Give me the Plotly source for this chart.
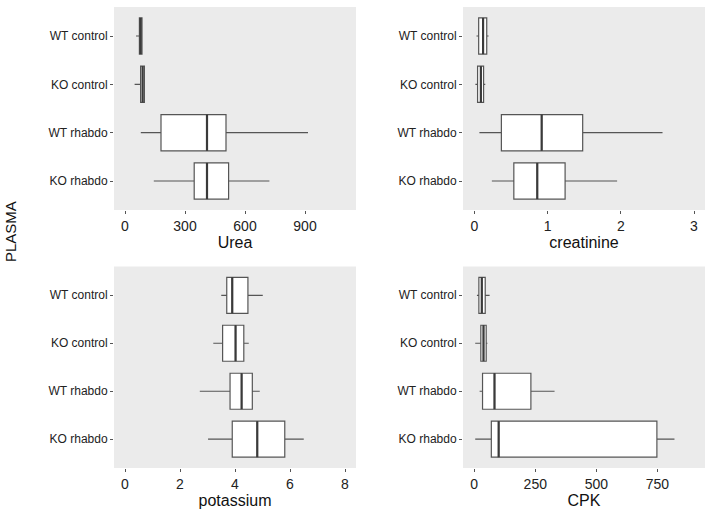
import plotly.graph_objects as go

groups = ["WT control", "KO control", "WT rhabdo", "KO rhabdo"]

urea_min = [55, 48, 79, 144]
urea_q1 = [72, 78, 180, 346]
urea_med = [78, 88, 410, 410]
urea_q3 = [85, 97, 505, 518]
urea_max = [88, 97, 915, 722]

creat_min = [0.03, 0.015, 0.07, 0.24]
creat_q1 = [0.06, 0.045, 0.37, 0.54]
creat_med = [0.12, 0.09, 0.92, 0.86]
creat_q3 = [0.17, 0.127, 1.48, 1.24]
creat_max = [0.195, 0.15, 2.57, 1.95]

pot_min = [3.50, 3.21, 2.72, 3.02]
pot_q1 = [3.70, 3.55, 3.82, 3.90]
pot_med = [3.90, 4.02, 4.24, 4.81]
pot_q3 = [4.47, 4.32, 4.63, 5.81]
pot_max = [5.01, 4.50, 4.90, 6.50]

cpk_min = [11, 4, 22, 4]
cpk_q1 = [19, 27, 34, 70]
cpk_med = [31, 38, 83, 100]
cpk_q3 = [45, 49, 232, 748]
cpk_max = [63, 54, 329, 820]

panels = [
    ("Urea", urea_min, urea_q1, urea_med, urea_q3, urea_max, [-55, 1155], [0, 300, 600, 900]),
    ("creatinine", creat_min, creat_q1, creat_med, creat_q3, creat_max, [-0.154, 3.15], [0, 1, 2, 3]),
    ("potassium", pot_min, pot_q1, pot_med, pot_q3, pot_max, [-0.4, 8.4], [0, 2, 4, 6, 8]),
    ("CPK", cpk_min, cpk_q1, cpk_med, cpk_q3, cpk_max, [-46, 945], [0, 250, 500, 750]),
]

W, H = 712, 509
BOX_W = 0.75
xdoms = [[114 / W, 356 / W], [463 / W, 705 / W]]
ydoms = [[1 - 210 / H, 1 - 7 / H], [1 - 468 / H, 1 - 266.5 / H]]

# numeric positions: WT control at top
ypos = [len(groups) - 1 - k for k in range(len(groups))]

fig = go.Figure()
layout = dict(
    width=W, height=H,
    margin=dict(l=0, r=0, t=0, b=0),
    paper_bgcolor="white",
    plot_bgcolor="#EBEBEB",
    showlegend=False,
    font=dict(family="Liberation Sans, Arial, sans-serif", color="#333333"),
)

for i, (name, mn, q1, med, q3, mx, xr, tv) in enumerate(panels):
    r, c = divmod(i, 2)
    sfx = "" if i == 0 else str(i + 1)
    fig.add_trace(go.Box(
        y=ypos, q1=q1, median=med, q3=q3, lowerfence=mn, upperfence=mx,
        orientation="h", xaxis="x" + sfx, yaxis="y" + sfx,
        fillcolor="white", line=dict(color="#555555", width=1.2),
        whiskerwidth=0, width=BOX_W, boxpoints=False, hoverinfo="skip",
    ))
    # thicker median segments (ggplot-style fatten)
    mx_line, my_line = [], []
    for k in range(len(groups)):
        mx_line += [med[k], med[k], None]
        my_line += [ypos[k] - BOX_W / 2, ypos[k] + BOX_W / 2, None]
    fig.add_trace(go.Scatter(
        x=mx_line, y=my_line, mode="lines", xaxis="x" + sfx, yaxis="y" + sfx,
        line=dict(color="#3a3a3a", width=2.2), hoverinfo="skip",
    ))
    layout["xaxis" + sfx] = dict(
        domain=xdoms[c], anchor="y" + sfx, range=xr, tickvals=tv,
        showgrid=False, zeroline=False, showline=False,
        ticks="outside", ticklen=3, tickcolor="#555555",
        tickfont=dict(size=14, color="#222222"),
        title=dict(text=name, font=dict(size=16, color="#111111"), standoff=0),
        fixedrange=True,
    )
    layout["yaxis" + sfx] = dict(
        domain=ydoms[r], anchor="x" + sfx,
        range=[-0.6, len(groups) - 0.4], tickvals=ypos, ticktext=groups,
        showgrid=False, zeroline=False, showline=False,
        ticks="outside", ticklen=3, tickcolor="#555555",
        tickfont=dict(size=12, color="#222222"),
        fixedrange=True,
    )

layout["annotations"] = [dict(
    text="PLASMA", x=10 / W, y=1 - 232 / H, xref="paper", yref="paper",
    textangle=-90, showarrow=False, font=dict(size=15, color="#111111"),
    xanchor="center", yanchor="middle",
)]
fig.update_layout(**layout)
fig.write_html(
    "out.html",
    config={"displayModeBar": False},
    post_script="document.body.style.margin='0px';",
)
